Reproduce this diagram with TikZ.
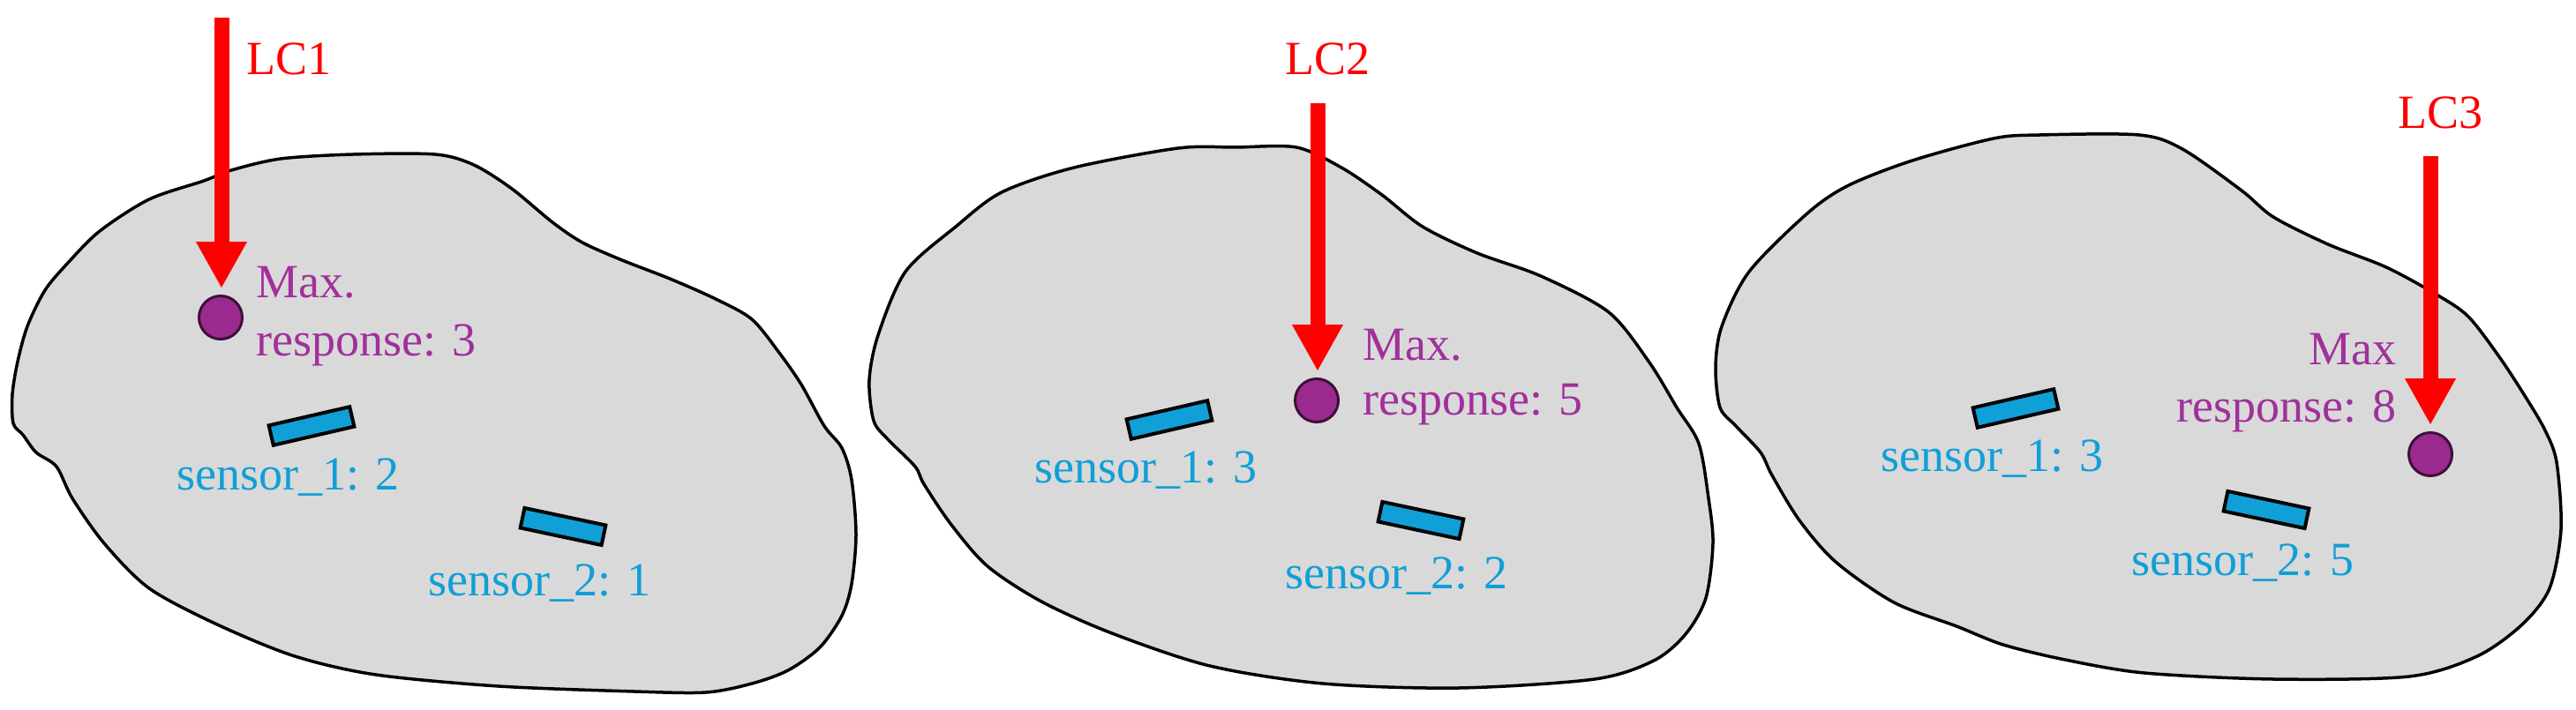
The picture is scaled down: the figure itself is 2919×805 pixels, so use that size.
\documentclass[tikz,border=0pt]{standalone}
\usepackage{fontspec}
\setmainfont{Liberation Serif}
\usetikzlibrary{arrows.meta}
\definecolor{lcred}{HTML}{FF0000}
\definecolor{mxpurple}{HTML}{A0309B}
\definecolor{mxfill}{HTML}{9B2A8E}
\definecolor{mxline}{HTML}{3D0F3A}
\definecolor{snblue}{HTML}{109FD7}
\definecolor{blobgray}{HTML}{D9D9D9}
\tikzset{
  blob/.style={draw=black, fill=blobgray, line width=3.5pt, line join=round},
  sensorbox/.style={draw=black, fill=snblue, line width=4pt, rectangle, minimum width=94pt, minimum height=23pt, inner sep=0pt},
  maxdot/.style={draw=mxline, fill=mxfill, line width=3pt, circle, minimum size=49pt, inner sep=0pt},
  txt/.style={font=\fontsize{54}{60}\selectfont, inner sep=0pt},
  lclabel/.style={txt, text=lcred, anchor=base west},
  mxlabel/.style={txt, text=mxpurple},
  snlabel/.style={txt, text=snblue, anchor=base west},
  load/.style={draw=lcred, line width=17pt, -{Triangle[width=54pt,length=53pt]}, shorten >=7pt}
}
\begin{document}
\begin{tikzpicture}[x=1pt,y=-1pt]
\useasboundingbox (0,0) rectangle (2919,805);
% blob 1
\draw[blob] plot[smooth cycle, tension=0.5] coordinates {
 (14,447) (15,480) (26,493) (41,513) (64,529) (82,565) (118,616) (169,667)
 (246,708) (334,744) (426,765) (565,778) (719,784) (800,785) (852,775)
 (893,760) (929,734) (954,698) (965,662) (970,606) (965,544) (954,508)
 (934,483) (908,436) (883,400) (852,362) (811,339) (759,316) (705,295)
 (660,275) (626,252) (580,214) (537,187) (493,175) (400,175) (318,180)
 (262,193) (231,205) (169,226) (113,262) (77,298) (51,329) (31,370) (20,410)};
% blob 2
\draw[blob] plot[smooth cycle, tension=0.5] coordinates {
 (985,431) (990,477) (1006,498) (1037,529) (1047,549) (1078,595) (1119,642)
 (1180,682) (1260,718) (1371,755) (1499,775) (1653,780) (1807,770) (1874,749)
 (1910,719) (1933,678) (1941,616) (1936,565) (1925,503) (1900,462) (1869,411)
 (1823,354) (1746,313) (1674,287) (1612,257) (1566,221) (1520,190) (1469,167)
 (1400,167) (1335,168) (1217,190) (1135,218) (1083,257) (1026,308) (995,380)};
% blob 3
\draw[blob] plot[smooth cycle, tension=0.5] coordinates {
 (1944,416) (1949,462) (1967,483) (1995,513) (2008,539) (2039,590) (2080,637)
 (2146,683) (2217,710) (2270,731) (2340,748) (2430,763) (2576,770) (2730,767)
 (2807,744) (2858,708) (2889,667) (2902,600) (2897,524) (2884,488) (2863,452)
 (2833,406) (2797,359) (2761,334) (2704,303) (2638,277) (2576,246) (2540,216)
 (2473,169) (2424,153) (2311,153) (2259,157) (2167,182) (2095,210) (2049,241)
 (1982,308) (1951,370)};
% panel 1
\node[maxdot] (m1) at (250,360) {};
\coordinate (t1) at (251,20);
\draw[load] (t1) -- (t1 |- m1.north);
\node[lclabel] (lc1) at (279,85) {LC1};
\node[mxlabel, anchor=base west] (mx1a) at (290,337) {Max.};
\node[mxlabel, anchor=base west] (mx1b) at (290,403) {response: 3};
\node[sensorbox, rotate=13] (s11) at (353,483) {};
\node[snlabel] (s11t) at (200,555) {sensor\_1: 2};
\node[sensorbox, rotate=-12] (s12) at (638,597) {};
\node[snlabel] (s12t) at (485,675) {sensor\_2: 1};
% panel 2
\node[maxdot] (m2) at (1492,454) {};
\coordinate (t2) at (1493,117);
\draw[load] (t2) -- (t2 |- m2.north);
\node[lclabel] (lc2) at (1456,85) {LC2};
\node[mxlabel, anchor=base west] (mx2a) at (1544,408) {Max.};
\node[mxlabel, anchor=base west] (mx2b) at (1544,470) {response: 5};
\node[sensorbox, rotate=13] (s21) at (1325,476) {};
\node[snlabel] (s21t) at (1172,547) {sensor\_1: 3};
\node[sensorbox, rotate=-12] (s22) at (1610,590) {};
\node[snlabel] (s22t) at (1456,667) {sensor\_2: 2};
% panel 3
\node[maxdot] (m3) at (2754,515) {};
\coordinate (t3) at (2754,177);
\draw[load] (t3) -- (t3 |- m3.north);
\node[lclabel] (lc3) at (2717,146) {LC3};
\node[mxlabel, anchor=base east] (mx3a) at (2716,413) {Max};
\node[mxlabel, anchor=base east] (mx3b) at (2716,478) {response: 8};
\node[sensorbox, rotate=13] (s31) at (2284,463) {};
\node[snlabel] (s31t) at (2131,534) {sensor\_1: 3};
\node[sensorbox, rotate=-12] (s32) at (2568,578) {};
\node[snlabel] (s32t) at (2415,652) {sensor\_2: 5};
\end{tikzpicture}
\end{document}
